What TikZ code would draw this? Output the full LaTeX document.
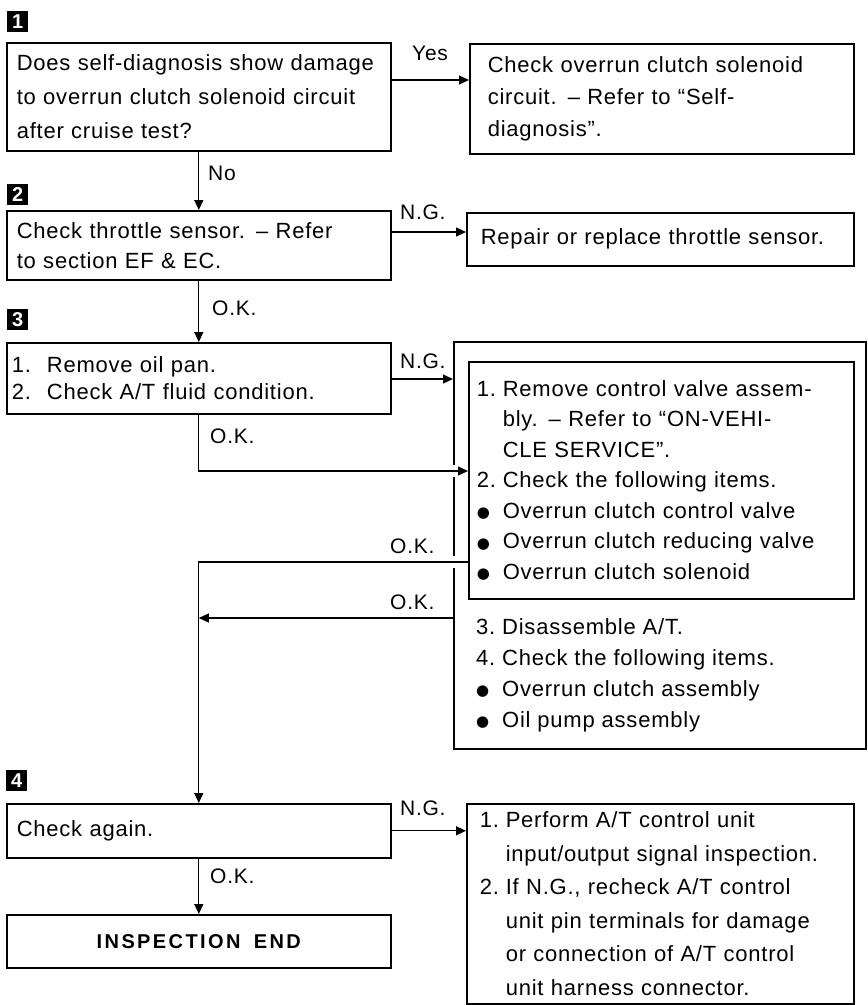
\documentclass[tikz,border=0pt]{standalone}
\usepackage{fontspec}
\setmainfont{Liberation Sans}[LetterSpace=3.5]
\newfontfamily\dejavu{DejaVu Sans}
\usetikzlibrary{arrows.meta,calc}
\newcommand{\hang}[1]{\makebox[26pt][l]{#1}}
\newcommand{\bul}{\makebox[26pt][l]{\raisebox{0.5pt}{\dejavu\fontsize{15}{15}\selectfont ●}}}
\begin{document}
\begin{tikzpicture}[x=1pt,y=-1pt,
  every node/.style={font=\fontsize{22}{34}\selectfont},
  box/.style={draw, line width=1.6pt, anchor=north west, align=left, inner ysep=0pt, inner xsep=10pt},
  lbl/.style={anchor=base west, inner sep=0pt, font=\fontsize{21}{21}\selectfont},
  conn/.style={line width=1.3pt},
  arr/.style={conn, -{Triangle[length=10pt,width=9pt]}},
  marker/.style={fill=black, minimum size=21pt, inner sep=0pt, anchor=north west, text=white, font=\fontsize{20}{20}\selectfont\bfseries}
]
\useasboundingbox (0,0) rectangle (868,1005);

% markers
\node[marker] (m1) at (7,11) {1};
\node[marker] (m2) at (7,184) {2};
\node[marker] (m3) at (7,309) {3};
\node[marker] (m4) at (6,770) {4};

% step 1
\node[box, text width=364pt, minimum height=108pt] (b1) at (6,42)
  {Does self-diagnosis show damage\\to overrun clutch solenoid circuit\\after cruise test?};
\node[box, inner xsep=18pt, text width=348pt, minimum height=110pt, font=\fontsize{22}{32}\selectfont] (b1y) at (469,43)
  {Check overrun clutch solenoid\\circuit. -- Refer to “Self-\\diagnosis”.};

% step 2
\node[box, text width=364pt, minimum height=69pt, font=\fontsize{22}{30}\selectfont] (b2) at (6,210)
  {Check throttle sensor. -- Refer\\to section EF \& EC.};
\node[box, inner xsep=14pt, text width=359pt, minimum height=53pt] (b2n) at (466,212)
  {Repair or replace throttle sensor.};

% step 3
\node[box, inner xsep=5pt, text width=374pt, minimum height=71pt, font=\fontsize{22}{27}\selectfont] (b3) at (6,342)
  {1.\hspace{5pt} Remove oil pan.\\2.\hspace{5pt} Check A/T fluid condition.};
\node[draw, line width=1.6pt, anchor=north west, inner sep=0pt, minimum width=412pt, minimum height=407pt] (outer) at (453,341) {};
\node[box, fill=white, inner xsep=8pt, text width=369pt, minimum height=237pt, font=\fontsize{22}{30.5}\selectfont] (inner) at (468,361)
  {\hang{1.}Remove control valve assem-\\\hang{}bly. -- Refer to “ON-VEHI-\\\hang{}CLE SERVICE”.\\\hang{2.}Check the following items.\\\bul Overrun clutch control valve\\\bul Overrun clutch reducing valve\\\bul Overrun clutch solenoid};
\node[anchor=north west, inner sep=0pt, align=left, font=\fontsize{22}{31}\selectfont] (outertext) at (476,618)
  {\hang{3.}Disassemble A/T.\\\hang{4.}Check the following items.\\\bul Overrun clutch assembly\\\bul Oil pump assembly};

% step 4
\node[box, text width=364pt, minimum height=54pt] (b4) at (6,803) {Check again.};
\node[box, align=center, text width=364pt, minimum height=53pt, font=\fontsize{20}{24}\selectfont\bfseries\addfontfeature{LetterSpace=12}] (bend) at (6,914) {INSPECTION\ \ END};
\node[box, inner xsep=13pt, text width=361pt, minimum height=200pt, font=\fontsize{22}{33.5}\selectfont] (b4n) at (466,803)
  {\hang{1.}Perform A/T control unit\\\hang{}input/output signal inspection.\\\hang{2.}If N.G., recheck A/T control\\\hang{}unit pin terminals for damage\\\hang{}or connection of A/T control\\\hang{}unit harness connector.};

% helper coordinates
\coordinate (yesy) at (0,80);
\coordinate (ng2y) at (0,232);
\coordinate (ng3y) at (0,379);
\coordinate (ok3y) at (0,471);
\coordinate (okiy) at (0,562);
\coordinate (okoy) at (0,618);

% gaps in outer border where lines cross
\fill[white] ($(outer.west |- ok3y)+(-4,-6)$) rectangle ($(outer.west |- ok3y)+(4,6)$);
\fill[white] ($(outer.west |- okiy)+(-4,-6)$) rectangle ($(outer.west |- okiy)+(4,6)$);

% connectors
\draw[arr] (b1.east |- yesy) -- (b1y.west |- yesy);
\draw[arr] (b1.south) -- (b2.north);
\draw[arr] (b2.east |- ng2y) -- (b2n.west |- ng2y);
\draw[arr] (b2.south) -- (b3.north);
\draw[arr] (b3.east |- ng3y) -- (outer.west |- ng3y);
\draw[arr] (b3.south) |- (inner.west |- ok3y);
\draw[arr] (inner.west |- okiy) -| (b4.north);
\draw[arr] (outer.west |- okoy) -- (b4.north |- okoy);
\draw[arr] (b4.east) -- (b4n.west |- b4.east);
\draw[arr] (b4.south) -- (bend.north);

% labels
\node[lbl] (lyes) at (412,60) {Yes};
\node[lbl] (lno) at (208,180) {No};
\node[lbl] (lng2) at (400,219) {N.G.};
\node[lbl] (lok2) at (212,315) {O.K.};
\node[lbl] (lng3) at (400,368) {N.G.};
\node[lbl] (lok3) at (210,443) {O.K.};
\node[lbl] (loki) at (390,553) {O.K.};
\node[lbl] (loko) at (390,609) {O.K.};
\node[lbl] (lng4) at (400,815) {N.G.};
\node[lbl] (lok4) at (210,883) {O.K.};
\end{tikzpicture}
\end{document}
